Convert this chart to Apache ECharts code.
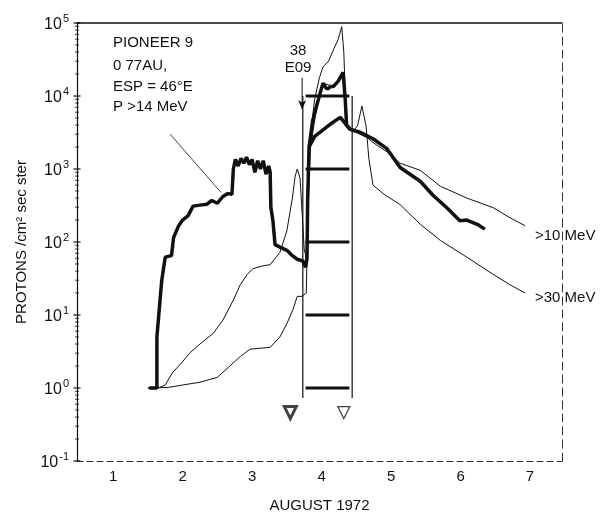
<!DOCTYPE html>
<html>
<head>
<meta charset="utf-8">
<script src="https://cdn.jsdelivr.net/npm/echarts@6/dist/echarts.min.js"></script>
<style>
  html, body { margin: 0; padding: 0; background: #fff; }
  #chart { width: 609px; height: 518px; }
</style>
</head>
<body>
<div id="chart"></div>
<script>
// August 1972 day (x) and protons / cm2 sec ster (y)
var dayMin = 0.48, dayMax = 7.46;
var dayTicks = [1, 2, 3, 4, 5, 6, 7];
var decadeTicks = [0.1, 1, 10, 100, 1000, 10000, 100000];
var minorMultipliers = [2, 3, 4, 5, 6, 7, 8, 9];

// Pioneer 9, P > 14 MeV (thick)
var p14Days = [1.52, 1.63, 1.63, 1.67, 1.70, 1.75, 1.84, 1.87, 1.94, 2.00, 2.08, 2.15, 2.25, 2.35, 2.42, 2.50, 2.58, 2.65, 2.71, 2.73,
  2.76, 2.80, 2.84, 2.88, 2.92, 2.96, 3.00, 3.04, 3.08, 3.12, 3.16, 3.20, 3.24, 3.26, 3.27, 3.30, 3.33, 3.40, 3.50, 3.58,
  3.65, 3.73, 3.77, 3.79, 3.80, 3.82, 3.87, 3.94, 4.02, 4.06, 4.09, 4.13, 4.17, 4.24, 4.31, 4.34, 4.36, 4.41, 4.55, 4.74,
  4.94, 5.13, 5.42, 5.60, 5.81, 5.99, 6.09, 6.24, 6.35];
var p14Flux = [1, 1, 5, 14, 30, 62, 65, 115, 165, 200, 230, 310, 320, 330, 370, 340, 420, 460, 450, 1000,
  1350, 1100, 1400, 1200, 1450, 1150, 1350, 900, 1300, 1000, 1300, 850, 1100, 900, 300, 195, 92, 85, 77, 65,
  58, 55, 45, 60, 400, 2000, 4500, 8000, 15000, 13000, 12500, 13500, 13500, 16000, 21000, 9000, 4000, 3500, 3200, 2600,
  1900, 1050, 680, 440, 290, 195, 200, 175, 150];
// lower thick branch through the event
var p14LowDays = [3.82, 3.90, 3.98, 4.08, 4.17, 4.27, 4.34, 4.41];
var p14LowFlux = [2000, 2800, 3200, 3800, 4400, 5100, 4200, 3500];

// > 10 MeV (thin)
var mev10Days = [1.50, 1.65, 1.75, 1.85, 2.00, 2.10, 2.25, 2.44, 2.58, 2.73, 2.83, 2.93, 3.01, 3.15, 3.26, 3.40, 3.50, 3.58, 3.62, 3.65,
  3.69, 3.72, 3.75, 3.78, 3.80, 3.83, 3.90, 3.97, 4.02, 4.10, 4.18, 4.24, 4.29, 4.32, 4.34, 4.37, 4.45, 4.55, 4.65, 4.80,
  4.95, 5.13, 5.42, 5.71, 6.09, 6.47, 6.71, 6.93];
var mev10Flux = [1, 1, 1.1, 1.6, 2.3, 3, 4, 5.6, 8.5, 16, 26, 36, 43, 47, 49, 72, 142, 400, 800, 1000,
  750, 250, 80, 60, 300, 2500, 9000, 18000, 25000, 30000, 45000, 60000, 89000, 40000, 11000, 4000, 3300, 3000, 2700, 2100,
  1700, 1200, 960, 580, 400, 295, 215, 167];

// > 30 MeV (thin)
var mev30Days = [1.50, 1.80, 2.00, 2.25, 2.50, 2.68, 2.83, 2.97, 3.10, 3.26, 3.40, 3.50, 3.59, 3.65, 3.72, 3.78, 3.80, 3.84, 3.94, 4.02,
  4.17, 4.31, 4.34, 4.37, 4.45, 4.52, 4.58, 4.64, 4.68, 4.74, 4.90, 5.13, 5.42, 5.71, 6.09, 6.47, 6.71, 6.93];
var mev30Flux = [1, 1.02, 1.1, 1.2, 1.4, 2, 2.7, 3.4, 3.5, 3.6, 5, 7.6, 12, 18, 18, 20, 200, 2000, 8000, 15000,
  13500, 20000, 8000, 3900, 3200, 4000, 7300, 3900, 1400, 600, 450, 325, 175, 105, 62, 36, 26, 20];

// interval box and its decade bars
var boxDays = [3.73, 4.44];
var boxFlux = [0.73, 10000];
var barDays = [3.77, 4.40];
var barLevels = [1, 10, 100, 1000, 10000];

// event markers
var flareArrowDay = 3.72;
var flareArrowFlux = [17800, 6600];
var markerDays = [3.55, 4.32];
var markerFlux = 0.46;

// pointer from the legend text to the thick curve
var pointerDays = [1.82, 2.55];
var pointerFlux = [3000, 480];

function zip(xs, ys) {
  return xs.map(function (x, i) { return [x, ys[i]]; });
}

var minorFluxTicks = [];
decadeTicks.slice(0, -1).forEach(function (d) {
  minorMultipliers.forEach(function (k) { minorFluxTicks.push(d * k); });
});

var ink = '#111';
var font = 'Liberation Sans';

function segment(data, width, z) {
  return {
    type: 'line', data: data, symbol: 'none', silent: true, z: z || 2,
    lineStyle: { color: ink, width: width }
  };
}

// left axis ticks, as small marks sitting on the axis line
function tickMarks(values, size) {
  return {
    type: 'scatter', silent: true, clip: false, z: 6,
    symbol: 'rect', symbolSize: size,
    itemStyle: { color: ink },
    data: values.map(function (v) { return [dayMin, v]; })
  };
}

var series = [
  segment(zip(mev30Days, mev30Flux), 1, 3),
  segment(zip(mev10Days, mev10Flux), 1, 3),
  segment(zip(p14Days, p14Flux), 3.5, 4),
  segment(zip(p14LowDays, p14LowFlux), 3.5, 4),
  segment([[boxDays[0], boxFlux[0]], [boxDays[0], boxFlux[1]]], 1.2),
  segment([[boxDays[1], boxFlux[0]], [boxDays[1], boxFlux[1]]], 1.2),
  segment(zip(pointerDays, pointerFlux), 0.8),
  tickMarks(decadeTicks, [7, 1.5]),
  tickMarks(minorFluxTicks, [4, 1])
];
barLevels.forEach(function (lv) {
  series.push(segment([[barDays[0], lv], [barDays[1], lv]], 3));
});
series.push({
  type: 'line', silent: true, z: 5,
  lineStyle: { color: ink, width: 1 },
  data: [
    { value: [flareArrowDay, flareArrowFlux[0]], symbol: 'none' },
    { value: [flareArrowDay, flareArrowFlux[1]], symbol: 'arrow', symbolSize: [6, 9], symbolRotate: 180, itemStyle: { color: ink } }
  ]
});
series.push({
  type: 'scatter', silent: true, z: 5,
  symbol: 'triangle', symbolRotate: 180, symbolSize: 12,
  data: [
    { value: [markerDays[0], markerFlux], itemStyle: { color: '#fff', borderColor: ink, borderWidth: 3 } },
    { value: [markerDays[1], markerFlux], itemStyle: { color: '#fff', borderColor: ink, borderWidth: 1.2 } }
  ]
});

function txt(x, y, s, align) {
  return {
    type: 'text', x: x, y: y, silent: true,
    style: { text: s, fill: ink, font: '15px "' + font + '"', textAlign: align || 'left', textVerticalAlign: 'middle' }
  };
}

var chart = echarts.init(document.getElementById('chart'), null, { renderer: 'canvas' });
chart.setOption({
  backgroundColor: '#fff',
  animation: false,
  textStyle: { fontFamily: font, color: ink },
  grid: { left: 77, right: 47, top: 23, bottom: 52 },
  xAxis: [{
    type: 'value', min: dayMin, max: dayMax,
    name: 'AUGUST 1972', nameLocation: 'middle', nameGap: 37,
    nameTextStyle: { fontSize: 15, color: ink },
    axisLine: { lineStyle: { color: '#333', width: 1, type: [6, 4] } },
    axisTick: { show: false },
    splitLine: { show: false },
    axisLabel: { customValues: dayTicks, fontSize: 15, color: ink, margin: 8 }
  }, {
    type: 'value', min: dayMin, max: dayMax, position: 'top',
    axisLine: { show: true, onZero: false, lineStyle: { color: ink, width: 1.5 } },
    axisTick: { show: false }, axisLabel: { show: false }, splitLine: { show: false }
  }],
  yAxis: [{
    type: 'log', logBase: 10, min: 0.1, max: 100000,
    name: 'PROTONS /cm² sec ster', nameLocation: 'middle', nameGap: 48, nameRotate: 90,
    nameTextStyle: { fontSize: 15, color: ink },
    axisLine: { show: true, lineStyle: { color: ink, width: 1.2 } },
    axisTick: { show: false },
    splitLine: { show: false },
    axisLabel: {
      margin: 8, color: ink,
      formatter: function (v) {
        var e = Math.round(Math.log10(v));
        return '{b|10}{s|' + e + '}';
      },
      rich: {
        b: { fontSize: 16, color: ink, verticalAlign: 'bottom' },
        s: { fontSize: 11, color: ink, verticalAlign: 'top', padding: [0, 0, 8, 1] }
      }
    }
  }, {
    type: 'log', logBase: 10, min: 0.1, max: 100000, position: 'right',
    axisLine: { show: true, lineStyle: { color: '#333', width: 1, type: [8, 5] } },
    axisTick: { show: false }, axisLabel: { show: false }, splitLine: { show: false }
  }],
  graphic: [
    txt(113, 43, 'PIONEER 9'),
    txt(113, 66, '0 77AU,'),
    txt(113, 87, 'ESP = 46°E'),
    txt(113, 107, 'P >14 MeV'),
    txt(298, 51, '38', 'center'),
    txt(298, 68, 'E09', 'center'),
    txt(535, 236, '>10 MeV'),
    txt(535, 298, '>30 MeV')
  ],
  series: series
});
</script>
</body>
</html>
